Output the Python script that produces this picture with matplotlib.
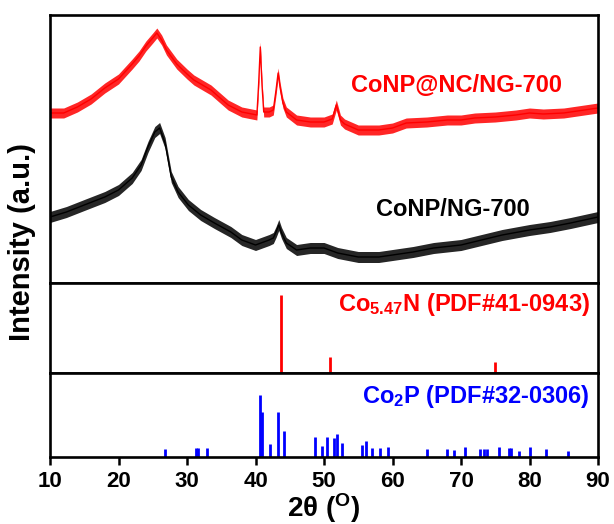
import matplotlib
matplotlib.use("Agg")
import matplotlib.pyplot as plt
import numpy as np

plt.rcParams["font.family"] = ["Liberation Sans", "DejaVu Sans"]
plt.rcParams["font.weight"] = "bold"
plt.rcParams["mathtext.fontset"] = "custom"
plt.rcParams["mathtext.rm"] = "Liberation Sans:bold"
plt.rcParams["mathtext.bf"] = "Liberation Sans:bold"
plt.rcParams["mathtext.it"] = "Liberation Sans:bold"

# ---- measured XRD patterns (2theta in degrees, intensity in a.u.) ----
red_2theta = [10, 12, 14, 16, 18, 20, 22, 23, 24, 25, 25.6, 26.3, 27, 28.5, 30,
              31, 33.5, 36, 38, 40.2, 40.45, 40.7, 40.95, 41.2, 42.0, 42.6, 43.0,
              43.3, 43.6, 44.0, 44.5, 46, 48, 50, 51.2, 51.8, 52.4, 53, 55, 58,
              60, 62, 65, 68, 70, 72, 75, 78, 80, 82, 85, 88, 90]
red_intensity = [170, 170, 176, 184, 195, 204, 219, 227, 237, 245, 250, 243, 233,
                 219, 209, 203, 193, 178, 171, 168, 198, 236, 198, 171, 171, 173,
                 193, 210, 195, 180, 171, 163, 161, 161, 164, 178, 163, 159, 153,
                 153, 155, 160, 161, 163, 163, 165, 166, 168, 170, 169, 170, 173,
                 175]

black_2theta = [10, 12.4, 15, 18, 20, 22, 23.3, 24.3, 25.3, 26, 26.8, 27.7, 28.7,
                30.2, 32, 34, 36.4, 38, 40, 42, 42.6, 43.0, 43.4, 43.8, 44.5, 46,
                48, 50, 52, 55, 58, 60, 63, 66, 70, 73, 76, 80, 83, 86, 88, 90]
black_intensity = [66, 71, 78, 86, 93, 105, 118, 136, 151, 155, 140, 106, 91, 78,
                   68, 60, 51, 43, 38, 43, 45, 51, 58, 50, 40, 33, 35, 35, 30, 26,
                   26, 28, 31, 35, 38, 43, 48, 53, 56, 60, 63, 66]

# ---- reference patterns (stick positions and relative intensities) ----
co547n_2theta = [43.7, 50.9, 75.0]
co547n_intensity = [100, 21, 14]

co2p_2theta = [26.8, 31.3, 31.6, 32.9, 40.66, 41.0, 42.07, 43.3, 44.1, 48.7,
               49.66, 50.4, 51.5, 51.9, 52.6, 55.5, 56.2, 57.0, 58.2, 59.4, 65.1,
               67.9, 69.0, 70.6, 72.8, 73.3, 73.8, 75.5, 77.0, 77.3, 78.4, 80.1,
               82.4, 85.6]
co2p_intensity = [13, 15, 15, 15, 100, 73, 21, 73, 42, 32, 18, 32, 31, 37, 23,
                  19, 26, 15, 15, 16, 13, 13, 11, 16, 13, 13, 13, 16, 15, 15, 10,
                  16, 13, 10]

x_ticks = [10, 20, 30, 40, 50, 60, 70, 80, 90]

W, H = 614, 524
fig = plt.figure(figsize=(W / 100, H / 100), dpi=100)


def rect(left, top, right, bottom):
    return [left / W, 1 - bottom / H, (right - left) / W, (bottom - top) / H]


ax_top = fig.add_axes(rect(50, 15, 598, 283))
ax_mid = fig.add_axes(rect(50, 283, 598, 373), sharex=ax_top)
ax_bot = fig.add_axes(rect(50, 373, 598, 457), sharex=ax_top)

# noisy scans drawn as bands around the measured trace
for xs, ys, col, band in [(red_2theta, red_intensity, "#ff0000", 5),
                          (black_2theta, black_intensity, "#000000", 5.5)]:
    xs = np.asarray(xs, float)
    ys = np.asarray(ys, float)
    ax_top.fill_between(xs, ys - band, ys + band, color=col, lw=0, alpha=0.85)
    ax_top.plot(xs, ys, color=col, lw=1.0)
ax_top.set_ylim(0, 268)

ax_mid.vlines(co547n_2theta, 0, co547n_intensity, color="#ff0000", lw=2.0)
ax_mid.set_ylim(0, 115)

ax_bot.vlines(co2p_2theta, 0, co2p_intensity, color="#0000ff", lw=2.0)
ax_bot.set_ylim(0, 135)

for ax in (ax_top, ax_mid, ax_bot):
    ax.set_xlim(10, 90)
    ax.set_yticks([])
    for s in ax.spines.values():
        s.set_linewidth(1.9)
    ax.tick_params(axis="x", bottom=False, labelbottom=False)

ax_bot.set_xticks(x_ticks)
ax_bot.tick_params(axis="x", bottom=True, labelbottom=True, direction="out",
                   length=6, width=1.8, labelsize=16, pad=4)
for lbl in ax_bot.get_xticklabels():
    lbl.set_fontweight("bold")

fig.text(324 / W, 1 - 508 / H, r"2θ ($^{\mathrm{O}}$)", ha="center",
         va="center", fontsize=20, fontweight="bold")
fig.text(22 / W, 1 - 242 / H, "Intensity (a.u.)", rotation=90, ha="center",
         va="center", fontsize=21, fontweight="bold")

fig.text(456 / W, 1 - 85 / H, "CoNP@NC/NG-700", color="#ff0000", ha="center",
         va="center", fontsize=17, fontweight="bold")
fig.text(453 / W, 1 - 210 / H, "CoNP/NG-700", color="black", ha="center",
         va="center", fontsize=17, fontweight="bold")
fig.text(590 / W, 1 - 305 / H, r"Co$_{5.47}$N (PDF#41-0943)", color="#ff0000",
         ha="right", va="center", fontsize=17, fontweight="bold")
fig.text(590 / W, 1 - 397 / H, r"Co$_{2}$P (PDF#32-0306)", color="#0000ff",
         ha="right", va="center", fontsize=17, fontweight="bold")

fig.savefig("out.png", dpi=100)
